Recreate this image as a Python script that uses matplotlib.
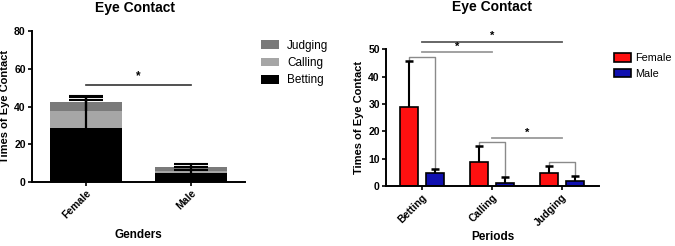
import numpy as np
import matplotlib.pyplot as plt
from matplotlib.patches import Patch

plt.rcParams['font.family'] = ['Liberation Sans', 'DejaVu Sans']

# dane - lewy wykres (suma po płci, słupki skumulowane)
plcie = ["Female", "Male"]
okresy = ["Betting", "Calling", "Judging"]
kolory_szare = {"Betting": "#000000", "Calling": "#a6a6a6", "Judging": "#7a7a7a"}

# dane - średnie i odchylenia (górne) dla każdej płci i okresu
female_srednie = [28.8, 8.8, 4.7]
female_sd = [16.9, 5.7, 2.7]
male_srednie = [4.8, 1.2, 2.0]
male_sd = [1.4, 2.1, 1.7]

# nawiasy istotności (prawy wykres)
nawiasy_grup = [47.3, 16.0, 8.7]          # wysokość nawiasu F-M w grupie
linie_istotnosci = [(0, 1, 48.8, "#9a9a9a"), (0, 2, 52.8, "#5a5a5a"), (1, 2, 17.4, "#9a9a9a")]


def gorne_bledy(ax, x, y, sd, pol_szer, lw, cap_lw):
    # tylko górna część słupka błędu (jak w GraphPad)
    for xi, yi, si in zip(x, y, sd):
        ax.plot([xi, xi], [yi, yi + si], color='k', lw=lw, zorder=3, solid_capstyle='butt')
        ax.plot([xi - pol_szer, xi + pol_szer], [yi + si, yi + si], color='k', lw=cap_lw,
                zorder=3, solid_capstyle='butt')


fig = plt.figure(figsize=(6.75, 2.46), dpi=100)

# ---------------- lewy wykres ----------------
ax1 = fig.add_axes([0.0474, 0.260, 0.3156, 0.614])
x1 = np.arange(len(plcie))
szer1 = 0.686
dane_plec = np.array([female_srednie, male_srednie])
sd_plec = np.array([female_sd, male_sd])
dol = np.zeros(len(plcie))
for j, okres in enumerate(okresy):
    wart = dane_plec[:, j]
    ax1.bar(x1, wart, szer1, bottom=dol, color=kolory_szare[okres], edgecolor='none', zorder=2)
    gora = dol + wart
    gorne_bledy(ax1, x1, gora, sd_plec[:, j], 0.16, 1.6, 1.5)
    dol = gora

ax1.set_xlim(-0.514, 1.514)
ax1.set_ylim(0, 80)
ax1.set_yticks([0, 20, 40, 60, 80])
ax1.set_xticks(x1)
ax1.set_xticklabels(plcie, rotation=45, ha='right', rotation_mode='anchor',
                    fontweight='bold', fontsize=8.8)
ax1.plot([0, 1], [51.4, 51.4], color='#333333', lw=1.2, clip_on=False)
ax1.text(0.5, 56, "*", ha='center', va='center', fontsize=8.5, fontweight='bold')
fig.text(135 / 675, 1 - 8 / 246, "Eye Contact", ha='center', va='center',
         fontsize=10, fontweight='bold')
ax1.set_xlabel("Genders", fontsize=8.5, fontweight='bold', labelpad=6)
ax1.set_ylabel("Times of Eye Contact", fontsize=8, fontweight='bold', labelpad=3)

leg1 = [Patch(facecolor=kolory_szare[o], edgecolor='none', label=o) for o in okresy[::-1]]
ax1.legend(handles=leg1, loc='upper left', bbox_to_anchor=(0.378, 0.862),
           bbox_transform=fig.transFigure, frameon=False, fontsize=8.5,
           handlelength=1.5, handleheight=0.75, labelspacing=0.45, borderpad=0,
           handletextpad=0.7)

# ---------------- prawy wykres ----------------
ax2 = fig.add_axes([0.572, 0.244, 0.3156, 0.556])
x2 = np.arange(len(okresy))
szer2 = 0.26
off = 0.185
ax2.bar(x2 - off, female_srednie, szer2, color='#ff1010', edgecolor='k', linewidth=1.2,
        label='Female', zorder=2)
ax2.bar(x2 + off, male_srednie, szer2, color='#1010b0', edgecolor='k', linewidth=1.2,
        label='Male', zorder=2)
gorne_bledy(ax2, x2 - off, female_srednie, female_sd, 0.06, 1.5, 1.8)
gorne_bledy(ax2, x2 + off, male_srednie, male_sd, 0.06, 1.5, 1.8)

for i, h in enumerate(nawiasy_grup):
    f_top = female_srednie[i] + female_sd[i]
    m_top = male_srednie[i] + male_sd[i]
    ax2.plot([x2[i] - off, x2[i] - off, x2[i] + off, x2[i] + off],
             [f_top, h, h, m_top], color='#8a8a8a', lw=1.0, zorder=1, clip_on=False)

for a, b, h, kol in linie_istotnosci:
    ax2.plot([a, b], [h, h], color=kol, lw=1.3, clip_on=False)
    ax2.text((a + b) / 2, h + 2.2, "*", ha='center', va='center', fontsize=8, fontweight='bold',
             clip_on=False)

ax2.set_xlim(-0.51, 2.53)
ax2.set_ylim(0, 50)
ax2.set_yticks([0, 10, 20, 30, 40, 50])
ax2.set_xticks(x2)
ax2.set_xticklabels(okresy, rotation=45, ha='right', rotation_mode='anchor',
                    fontweight='bold', fontsize=8.8)
fig.text(492 / 675, 1 - 7 / 246, "Eye Contact", ha='center', va='center',
         fontsize=10, fontweight='bold')
ax2.set_xlabel("Periods", fontsize=8.5, fontweight='bold', labelpad=2)
ax2.set_ylabel("Times of Eye Contact", fontsize=8, fontweight='bold', labelpad=3)
ax2.legend(loc='upper left', bbox_to_anchor=(0.901, 0.805), bbox_transform=fig.transFigure,
           frameon=False, fontsize=7.8, handlelength=1.6, handleheight=0.8,
           labelspacing=0.5, borderpad=0, handletextpad=0.35)

for ax in (ax1, ax2):
    for s in ('top', 'right'):
        ax.spines[s].set_visible(False)
    for s in ('left', 'bottom'):
        ax.spines[s].set_linewidth(1.4)
    ax.tick_params(width=1.2, length=3, labelsize=7.5, pad=1.5)
    for t in ax.get_yticklabels():
        t.set_fontweight('bold')

fig.savefig("out.png", dpi=100)
